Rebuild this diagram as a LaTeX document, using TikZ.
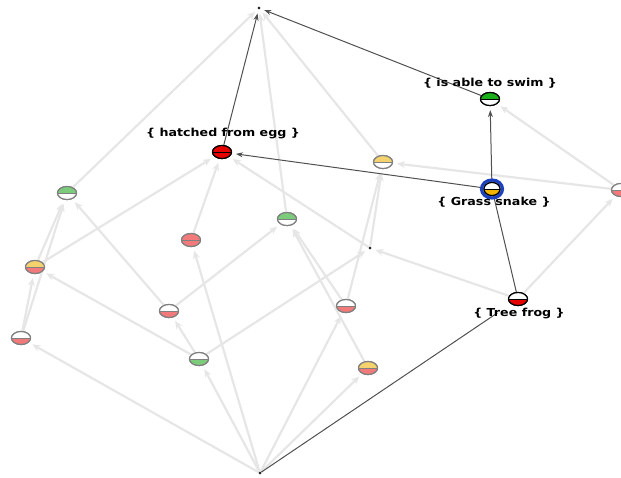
\documentclass[tikz,border=0pt]{standalone}
\usepackage{fontspec}
\usepackage{graphicx}
\newfontfamily\lblfont{DejaVu Sans}
\usetikzlibrary{shapes.geometric,arrows.meta,calc}
\definecolor{edgeL}{HTML}{E6E6E6}
\definecolor{edgeD}{HTML}{505050}
\definecolor{fgreen}{HTML}{7CCC7C}
\definecolor{fpink}{HTML}{F27A7A}
\definecolor{fyellow}{HTML}{F4D26E}
\definecolor{fline}{HTML}{808080}
\definecolor{sred}{HTML}{E60000}
\definecolor{sgreen}{HTML}{1AAF1A}
\definecolor{sgold}{HTML}{F2B400}
\definecolor{ringblue}{HTML}{1C40BE}
\begin{document}
\begin{tikzpicture}[x=1pt,y=-1pt,
  lightedge/.style={draw=edgeL, line width=2.2pt, shorten >=4pt, -{Stealth[length=8pt,width=7pt]}},
  darkedge/.style={draw=edgeD, line width=1pt, shorten >=4pt, -{Stealth[length=7pt,width=5pt]}},
  darkline/.style={draw=edgeD, line width=1pt},
  half/.style n args={3}{ellipse, minimum width=19pt, minimum height=13pt, inner sep=0pt,
    draw=#3, line width=1.2pt,
    path picture={
      \fill[#1] (path picture bounding box.north west) rectangle (path picture bounding box.east);
      \fill[#2] (path picture bounding box.west) rectangle (path picture bounding box.south east);
      \draw[#3, line width=0.7pt] (path picture bounding box.west) -- (path picture bounding box.east);
    }},
  smalldot/.style={circle, fill=black!85, inner sep=0pt, minimum size=2.8pt},
  lbl/.style={font=\lblfont\bfseries\fontsize{11}{13}\selectfont, text=black, inner sep=0pt}
]
\useasboundingbox (0,0) rectangle (621,477);
% node positions
\node[smalldot] (T) at (259,8) {};
\node[smalldot] (B) at (260,473) {};
\node[smalldot] (D) at (370,248) {};
\coordinate (Hc) at (222,152);
\coordinate (Sc) at (490,99);
\coordinate (Gc) at (492,189);
\coordinate (Fc) at (518,299);
\node[half={white}{fpink}{fline}] (R) at (621,190) {};
\node[half={fyellow}{white}{fline}] (Y1) at (383,162) {};
\node[half={fgreen}{white}{fline}] (GL) at (67,193) {};
\node[half={fyellow}{fpink}{fline}] (YP) at (35,267) {};
\node[half={white}{fpink}{fline}] (WP1) at (21,338) {};
\node[half={fpink}{fpink}{fline}] (PK) at (191,240) {};
\node[half={fgreen}{white}{fline}] (GR) at (287,219) {};
\node[half={white}{fpink}{fline}] (WP2) at (169,311) {};
\node[half={white}{fgreen}{fline}] (WG) at (199,359) {};
\node[half={white}{fpink}{fline}] (WP3) at (346,306) {};
\node[half={fyellow}{fpink}{fline}] (YP2) at (368,368) {};
\node[half={sred}{sred}{black}] (H) at (Hc) {};
\node[half={sgreen}{white}{black}] (S) at (Sc) {};
\node[half={white}{sgold}{black}, minimum width=16pt, minimum height=13pt] (G) at (Gc) {};
\node[half={white}{sred}{black}] (F) at (Fc) {};
% light edges
\draw[lightedge] (GL) -- (T);
\draw[lightedge] (GR) -- (T);
\draw[lightedge] (Y1) -- (T);
\draw[lightedge] (R) -- (S);
\draw[lightedge] (R) -- (Y1);
\draw[lightedge] (D) -- (H);
\draw[lightedge] (D) -- (Y1);
\draw[lightedge] (F) -- (D);
\draw[lightedge] (F) -- (R);
\draw[lightedge] (WG) -- (D);
\draw[lightedge] (YP) -- (GL);
\draw[lightedge] (WP1) -- (GL);
\draw[lightedge] (WP2) -- (GL);
\draw[lightedge] (YP) -- (H);
\draw[lightedge] (WP1) -- (YP);
\draw[lightedge] (WG) -- (YP);
\draw[lightedge] (PK) -- (H);
\draw[lightedge] (B) -- (PK);
\draw[lightedge] (WP2) -- (GR);
\draw[lightedge] (WP3) -- (GR);
\draw[lightedge] (YP2) -- (GR);
\draw[lightedge] (WG) -- (WP2);
\draw[lightedge] (B) -- (WG);
\draw[lightedge] (B) -- (WP1);
\draw[lightedge] (B) -- (WP3);
\draw[lightedge] (B) -- (YP2);
\draw[lightedge] (WP3) -- (Y1);
% dark edges
\draw[darkline] (B) -- ($(F)!0.08!(B)$);
\draw[darkline] (F) -- (G);
\draw[darkedge] (G) -- (S);
\draw[darkedge] (G) -- (H);
\draw[darkedge] (H) -- (T);
\draw[darkedge] (S) -- (T);
% redraw nodes on top of the edges
\node[half={white}{fpink}{fline}] at (621,190) {};
\node[half={fyellow}{white}{fline}] at (383,162) {};
\node[half={fgreen}{white}{fline}] at (67,193) {};
\node[half={fyellow}{fpink}{fline}] at (35,267) {};
\node[half={white}{fpink}{fline}] at (21,338) {};
\node[half={fpink}{fpink}{fline}] at (191,240) {};
\node[half={fgreen}{white}{fline}] at (287,219) {};
\node[half={white}{fpink}{fline}] at (169,311) {};
\node[half={white}{fgreen}{fline}] at (199,359) {};
\node[half={white}{fpink}{fline}] at (346,306) {};
\node[half={fyellow}{fpink}{fline}] at (368,368) {};
\node[half={sred}{sred}{black}] at (Hc) {};
\node[half={sgreen}{white}{black}] at (Sc) {};
\node[half={white}{sred}{black}] at (Fc) {};
\node[ellipse, draw=ringblue, line width=3.2pt, minimum width=21pt, minimum height=18pt, inner sep=0pt] (Gring) at (Gc) {};
\node[half={white}{sgold}{black}, minimum width=16pt, minimum height=13pt] at (Gc) {};
\node[smalldot] at (259,8) {};
\node[smalldot] at (260,473) {};
\node[smalldot] at (370,248) {};
% labels
\node[lbl] (Hl) at (223,134) {\scalebox{1.15}[1]{\{ hatched from egg \}}};
\node[lbl] (Sl) at (490,83) {\scalebox{1.15}[1]{\{ is able to swim \}}};
\node[lbl] (Gl) at (494,202) {\scalebox{1.15}[1]{\{ Grass snake \}}};
\node[lbl] (Fl) at (519,314) {\scalebox{1.15}[1]{\{ Tree frog \}}};
\end{tikzpicture}
\end{document}
